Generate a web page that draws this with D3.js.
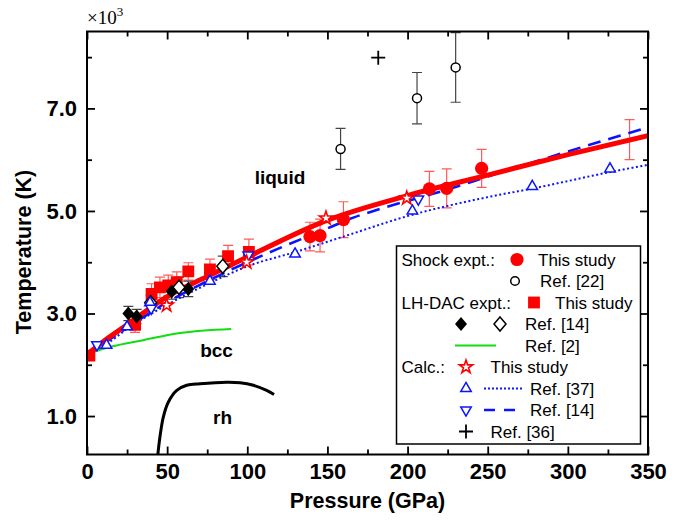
<!DOCTYPE html>
<html><head><meta charset="utf-8">
<script src="https://cdn.jsdelivr.net/npm/d3@7"></script>
<style>body{margin:0;background:#fff} svg{display:block} text{font-family:"Liberation Sans",Arial,sans-serif}</style>
</head><body><svg id="c" width="689" height="521"></svg>
<script>
// ---------- data ----------
const xMajor = [0,50,100,150,200,250,300,350];
const xMinor = [25,75,125,175,225,275,325];
const yMajor = [1,3,5,7];
const yMinor = [2,4,6,8];

// Shock expt., this study (red filled circles)
const shockP = [139.1,145.4,160.0,213.6,224.4,246.2];
const shockT = [4.50,4.52,4.83,5.43,5.44,5.83];
const shockE = [0.28,0.32,0.35,0.34,0.38,0.37];
// error bar without visible symbol
const barOnlyP = [338.5];
const barOnlyT = [6.39];
const barOnlyE = [0.39];

// Shock expt., Ref. [22] (open circles)
const ref22P = [158.2,205.9,230.0];
const ref22T = [6.21,7.20,7.80];
const ref22E = [0.40,0.50,0.68];

// LH-DAC expt., this study (red squares)
const dacP = [1.5,30.0,40.3,45.5,50.7,56.0,63.2,76.7,88.0,101.0];
const dacT = [2.18,2.78,3.38,3.51,3.55,3.61,3.82,3.86,4.12,4.20];
const dacE = [0,0.15,0.20,0.20,0.20,0.20,0.17,0.20,0.21,0.25];

// LH-DAC Ref. [14] filled / open diamonds
const d14fP = [25.8,31.0,52.8,63.2];
const d14fT = [3.00,2.94,3.43,3.48];
const d14fE = [0.14,0.14,0.15,0.15];
const d14oP = [39.7,57.4,84.7];
const d14oT = [3.21,3.51,3.92];
const d14oE = [0.15,0.20,0.20];

// Calc. this study (stars)
const starP = [49.7,99.6,149.1,199.5];
const starT = [3.16,4.00,4.86,5.25];

// Calc. Ref. [37] (up triangles)
const r37P = [12.2,25.0,39.3,76.7,129.8,203.0,277.8,326.3];
const r37T = [2.38,2.74,3.21,3.63,4.16,5.00,5.48,5.82];

// Calc. Ref. [14] (down triangles)
const r14P = [6.2,40.0,100.6,206.7];
const r14T = [2.39,3.10,4.14,5.23];

// Ref. [36] (plus)
const r36P = [181.7];
const r36T = [7.99];

// lines
const fitP = [0,10,25,50,75,100,150,200,250,300,350];
const fitT = [2.20,2.45,2.78,3.33,3.72,4.10,4.82,5.30,5.70,6.10,6.47];
const dashP = [0,25,50,75,100,119,150,167,183,226,250,300,350];
const dashT = [2.20,2.72,3.22,3.63,4.00,4.26,4.66,4.88,5.04,5.43,5.67,6.16,6.63];
const dotP = [0,12,25,50,75,100,130,160,200,250,280,325,350];
const dotT = [2.20,2.40,2.70,3.17,3.57,3.92,4.20,4.50,4.90,5.27,5.45,5.75,5.90];
const greenP = [0,16,35,58,90];
const greenT = [2.21,2.36,2.48,2.62,2.70];
const rhP = [44.2,45.5,47.6,50.7,56.0,62.2,70.5,87.2,95.5,103.8,112.1,116.7];
const rhT = [0.25,0.59,0.98,1.27,1.50,1.60,1.63,1.66,1.65,1.60,1.50,1.42];

// ---------- chart ----------
const svg = d3.select('#c');
const x = d3.scaleLinear().domain([0,350]).range([87,648]);
const y = d3.scaleLinear().domain([0.25,8.5]).range([454.5,31.5]);
const RED = '#ff0000', BLUE = '#0a14ff', ERR_RED = '#ff5a5a', ERR_BK = '#444';

svg.append('defs').append('clipPath').attr('id','clip')
  .append('rect').attr('x',87).attr('y',31.5).attr('width',561).attr('height',423);

const plot = svg.append('g').attr('clip-path','url(#clip)');
const zip = (P,T,E) => P.map((p,i)=>({p, t:T[i], e:E?E[i]:0}));

function errbars(data, color){
  const g = plot.append('g').attr('stroke',color).attr('stroke-width',1.2).attr('fill','none');
  data.filter(d=>d.e>0).forEach(d=>{
    const cx = x(d.p), y0 = y(d.t-d.e), y1 = y(d.t+d.e);
    g.append('line').attr('x1',cx).attr('x2',cx).attr('y1',y0).attr('y2',y1);
    g.append('line').attr('x1',cx-5).attr('x2',cx+5).attr('y1',y0).attr('y2',y0);
    g.append('line').attr('x1',cx-5).attr('x2',cx+5).attr('y1',y1).attr('y2',y1);
  });
}
const line = d3.line().x(d=>x(d.p)).y(d=>y(d.t)).curve(d3.curveMonotoneX);

// error bars
errbars(zip(dacP,dacT,dacE), ERR_RED);
errbars(zip(shockP,shockT,shockE), ERR_RED);
errbars(zip(barOnlyP,barOnlyT,barOnlyE), ERR_RED);
errbars(zip(ref22P,ref22T,ref22E), ERR_BK);
errbars(zip(d14fP,d14fT,d14fE), ERR_BK);
errbars(zip(d14oP,d14oT,d14oE), ERR_BK);

// lines
plot.append('path').datum(zip(greenP,greenT)).attr('d',line)
  .attr('fill','none').attr('stroke','#11dd11').attr('stroke-width',2);
plot.append('path').datum(zip(rhP,rhT)).attr('d',d3.line().x(d=>x(d.p)).y(d=>y(d.t)).curve(d3.curveCatmullRom))
  .attr('fill','none').attr('stroke','#000').attr('stroke-width',3);
plot.append('path').datum(zip(dotP,dotT)).attr('d',line)
  .attr('fill','none').attr('stroke',BLUE).attr('stroke-width',2).attr('stroke-dasharray','2,2.5');
plot.append('path').datum(zip(dashP,dashT)).attr('d',line)
  .attr('fill','none').attr('stroke',BLUE).attr('stroke-width',2.6).attr('stroke-dasharray','13,8');

// red squares
const sq = d3.symbol().type(d3.symbolSquare).size(140);
plot.append('g').selectAll('path').data(zip(dacP,dacT)).join('path')
  .attr('d',sq).attr('transform',d=>`translate(${x(d.p)},${y(d.t)})`).attr('fill',RED);

plot.append('path').datum(zip(fitP,fitT)).attr('d',line)
  .attr('fill','none').attr('stroke',RED).attr('stroke-width',5);

// diamonds
const diamond = 'M0,-7L6,0L0,7L-6,0Z';
plot.append('g').selectAll('path').data(zip(d14fP,d14fT)).join('path')
  .attr('d',diamond).attr('transform',d=>`translate(${x(d.p)},${y(d.t)})`).attr('fill','#000');
plot.append('g').selectAll('path').data(zip(d14oP,d14oT)).join('path')
  .attr('d',diamond).attr('transform',d=>`translate(${x(d.p)},${y(d.t)})`)
  .attr('fill','#fff').attr('stroke','#000').attr('stroke-width',1.5);

// triangles
const tri = d3.symbol().type(d3.symbolTriangle).size(48);
plot.append('g').selectAll('path').data(zip(r37P,r37T)).join('path')
  .attr('d',tri).attr('transform',d=>`translate(${x(d.p)},${y(d.t)})`)
  .attr('fill','#fff').attr('stroke',BLUE).attr('stroke-width',1.5);
plot.append('g').selectAll('path').data(zip(r14P,r14T)).join('path')
  .attr('d',tri).attr('transform',d=>`translate(${x(d.p)},${y(d.t)}) rotate(180)`)
  .attr('fill','#fff').attr('stroke',BLUE).attr('stroke-width',1.5);

// stars
const star = d3.symbol().type(d3.symbolStar).size(55);
plot.append('g').selectAll('path').data(zip(starP,starT)).join('path')
  .attr('d',star).attr('transform',d=>`translate(${x(d.p)},${y(d.t)})`)
  .attr('fill','#fff').attr('stroke',RED).attr('stroke-width',1.6);

// shock circles
plot.append('g').selectAll('circle').data(zip(shockP,shockT)).join('circle')
  .attr('cx',d=>x(d.p)).attr('cy',d=>y(d.t)).attr('r',6.6).attr('fill',RED);
plot.append('g').selectAll('circle').data(zip(ref22P,ref22T)).join('circle')
  .attr('cx',d=>x(d.p)).attr('cy',d=>y(d.t)).attr('r',4.5)
  .attr('fill','#fff').attr('stroke','#000').attr('stroke-width',1.5);

// plus
plot.append('g').selectAll('path').data(zip(r36P,r36T)).join('path')
  .attr('d','M-7,0H7M0,-7V7').attr('transform',d=>`translate(${x(d.p)},${y(d.t)})`)
  .attr('stroke','#000').attr('stroke-width',1.8);

// ---------- axes ----------
const fmt = d3.format('.1f');
function styleAxis(g){ g.select('.domain').remove(); g.selectAll('line').attr('stroke','#000').attr('stroke-width',1.8);
  g.selectAll('text').attr('font-size',22).attr('font-weight','bold').attr('fill','#000')
   .attr('font-family','"Liberation Sans",Arial,sans-serif'); }

svg.append('g').attr('transform','translate(0,454.5)')
  .call(d3.axisBottom(x).tickValues(xMajor).tickSize(-8).tickPadding(9).tickFormat(d3.format('d'))).call(styleAxis);
svg.append('g').attr('transform','translate(0,454.5)')
  .call(d3.axisBottom(x).tickValues(xMinor).tickSize(-5).tickFormat('')).call(styleAxis);
svg.append('g').attr('transform','translate(0,31.5)')
  .call(d3.axisTop(x).tickValues(xMajor).tickSize(-8).tickFormat('')).call(styleAxis);
svg.append('g').attr('transform','translate(0,31.5)')
  .call(d3.axisTop(x).tickValues(xMinor).tickSize(-5).tickFormat('')).call(styleAxis);
svg.append('g').attr('transform','translate(87,0)')
  .call(d3.axisLeft(y).tickValues(yMajor).tickSize(-8).tickPadding(10).tickFormat(fmt)).call(styleAxis);
svg.append('g').attr('transform','translate(87,0)')
  .call(d3.axisLeft(y).tickValues(yMinor).tickSize(-5).tickFormat('')).call(styleAxis);
svg.append('g').attr('transform','translate(648,0)')
  .call(d3.axisRight(y).tickValues(yMajor).tickSize(-8).tickFormat('')).call(styleAxis);
svg.append('g').attr('transform','translate(648,0)')
  .call(d3.axisRight(y).tickValues(yMinor).tickSize(-5).tickFormat('')).call(styleAxis);

svg.append('rect').attr('x',87).attr('y',31.5).attr('width',561).attr('height',423)
  .attr('fill','none').attr('stroke','#000').attr('stroke-width',2);

// titles
svg.append('text').attr('x',367.5).attr('y',508).attr('text-anchor','middle')
  .attr('font-size',21.5).attr('font-weight','bold').text('Pressure (GPa)');
svg.append('text').attr('transform','translate(31,252) rotate(-90)').attr('text-anchor','middle')
  .attr('font-size',21.5).attr('font-weight','bold').text('Temperature (K)');
const mult = svg.append('text').attr('x',87).attr('y',23.5).attr('font-size',19)
  .style('font-family','"Liberation Serif","Times New Roman",serif');
mult.append('tspan').text('×10');
mult.append('tspan').attr('font-size',13).attr('dy',-8).text('3');

// region labels
svg.append('text').attr('x',280).attr('y',184).attr('text-anchor','middle')
  .attr('font-size',19).attr('font-weight','bold').text('liquid');
svg.append('text').attr('x',216.5).attr('y',357).attr('text-anchor','middle')
  .attr('font-size',19).attr('font-weight','bold').text('bcc');
svg.append('text').attr('x',222.5).attr('y',424).attr('text-anchor','middle')
  .attr('font-size',19).attr('font-weight','bold').text('rh');

// ---------- legend ----------
const lg = svg.append('g');
lg.append('rect').attr('x',396.5).attr('y',246).attr('width',244).attr('height',198)
  .attr('fill','#fff').attr('stroke','#000').attr('stroke-width',1.5);
const row = i => 265.5 + i*21.5;
const lt = (tx,i,s) => lg.append('text').attr('x',tx).attr('y',row(i)).attr('font-size',17).text(s);
const sym = i => row(i) - 6;
lt(401.5,0,'Shock expt.:');
lg.append('circle').attr('cx',517).attr('cy',sym(0)).attr('r',6.6).attr('fill',RED);
lt(538,0,'This study');
lg.append('circle').attr('cx',515).attr('cy',sym(1)).attr('r',4.3).attr('fill','#fff').attr('stroke','#000').attr('stroke-width',1.5);
lt(540,1,'Ref. [22]');
lt(401.5,2,'LH-DAC expt.:');
lg.append('path').attr('d',sq).attr('transform',`translate(534,${sym(2)})`).attr('fill',RED);
lt(555,2,'This study');
lg.append('path').attr('d',diamond).attr('transform',`translate(461,${sym(3)})`).attr('fill','#000');
lg.append('path').attr('d',diamond).attr('transform',`translate(500,${sym(3)})`).attr('fill','#fff').attr('stroke','#000').attr('stroke-width',1.5);
lt(525,3,'Ref. [14]');
lg.append('line').attr('x1',455).attr('x2',496).attr('y1',sym(4)).attr('y2',sym(4)).attr('stroke','#11dd11').attr('stroke-width',2);
lt(525,4,'Ref. [2]');
lt(401.5,5,'Calc.:');
lg.append('path').attr('d',star).attr('transform',`translate(466,${sym(5)})`).attr('fill','#fff').attr('stroke',RED).attr('stroke-width',1.6);
lt(490.5,5,'This study');
lg.append('path').attr('d',tri).attr('transform',`translate(466,${sym(6)})`).attr('fill','#fff').attr('stroke',BLUE).attr('stroke-width',1.5);
lg.append('line').attr('x1',484).attr('x2',523).attr('y1',sym(6)).attr('y2',sym(6)).attr('stroke',BLUE).attr('stroke-width',2).attr('stroke-dasharray','2,2');
lt(530,6,'Ref. [37]');
lg.append('path').attr('d',tri).attr('transform',`translate(466,${sym(7)}) rotate(180)`).attr('fill','#fff').attr('stroke',BLUE).attr('stroke-width',1.5);
lg.append('line').attr('x1',484).attr('x2',516).attr('y1',sym(7)).attr('y2',sym(7)).attr('stroke',BLUE).attr('stroke-width',2.6).attr('stroke-dasharray','11,9');
lt(530,7,'Ref. [14]');
lg.append('path').attr('d','M-7,0H7M0,-7V7').attr('transform',`translate(466,${sym(8)})`).attr('stroke','#000').attr('stroke-width',1.8);
lt(490.5,8,'Ref. [36]');
</script></body></html>
